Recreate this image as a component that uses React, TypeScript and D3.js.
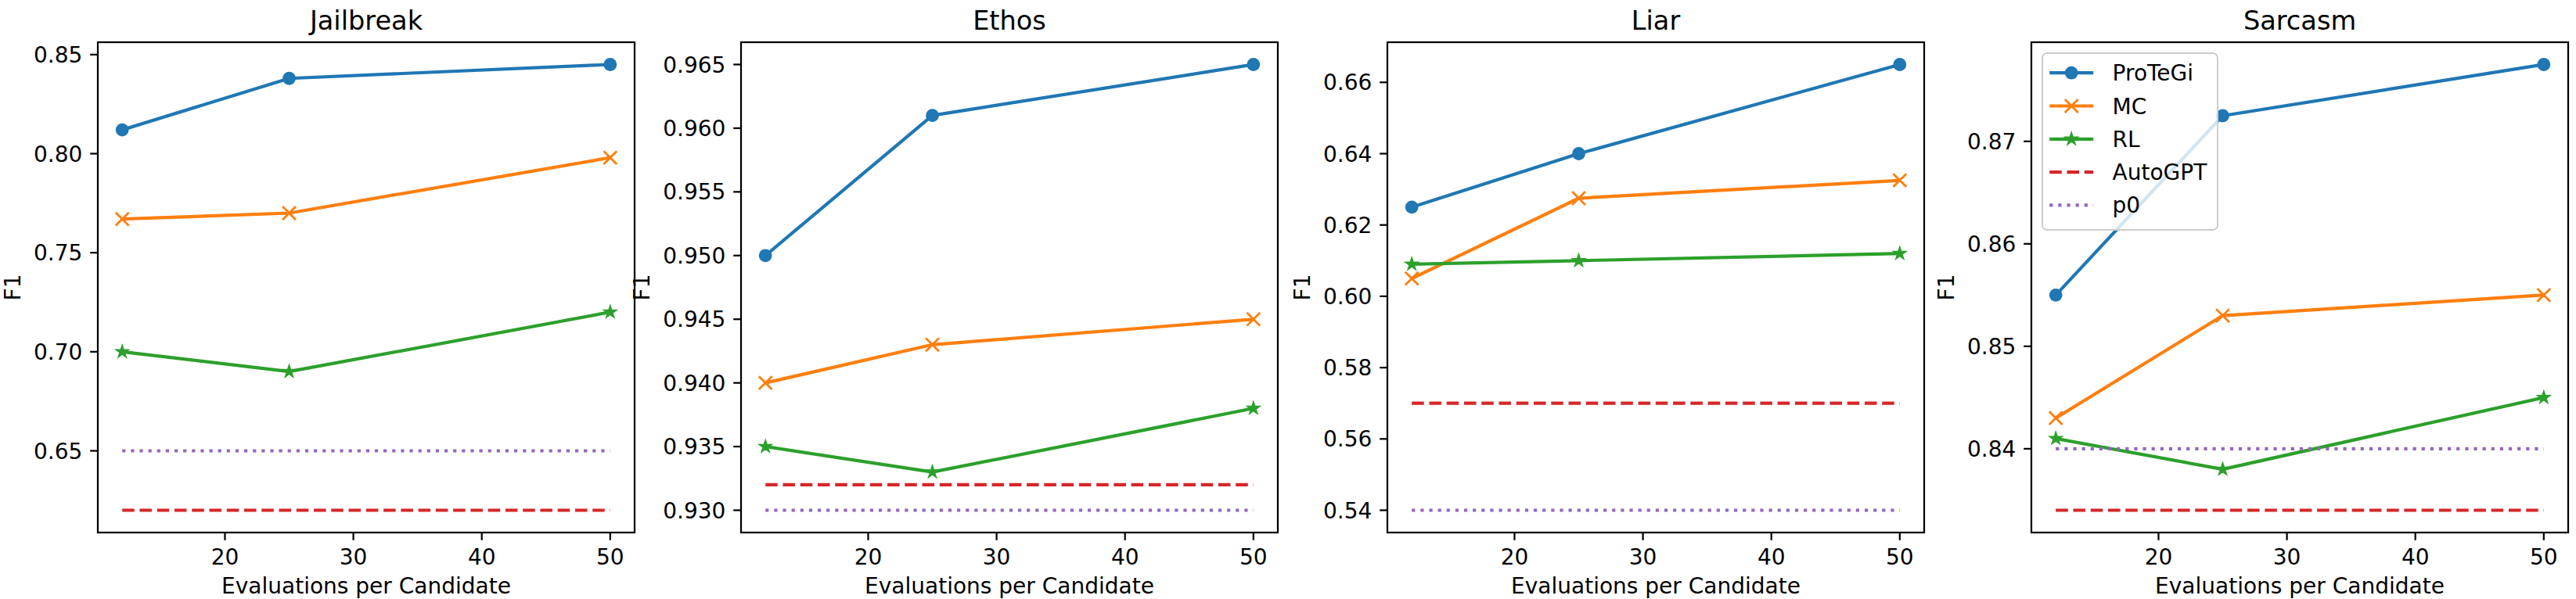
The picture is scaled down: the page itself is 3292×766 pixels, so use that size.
import React from 'react';
import * as d3 from 'd3';

const evals = [12, 25, 50];
const datasets = ['Jailbreak', 'Ethos', 'Liar', 'Sarcasm'];

// one row per dataset, one value per evals entry
const protegi = [
  [0.812, 0.838, 0.845],
  [0.95, 0.961, 0.965],
  [0.625, 0.64, 0.665],
  [0.855, 0.8725, 0.8775],
];
const mc = [
  [0.767, 0.77, 0.798],
  [0.94, 0.943, 0.945],
  [0.605, 0.6275, 0.6325],
  [0.843, 0.853, 0.855],
];
const rl = [
  [0.7, 0.69, 0.72],
  [0.935, 0.933, 0.938],
  [0.609, 0.61, 0.612],
  [0.841, 0.838, 0.845],
];
const autogpt = [0.62, 0.932, 0.57, 0.834];
const p0 = [0.65, 0.93, 0.54, 0.84];

const yTicks = [
  [0.65, 0.7, 0.75, 0.8, 0.85],
  [0.93, 0.935, 0.94, 0.945, 0.95, 0.955, 0.96, 0.965],
  [0.54, 0.56, 0.58, 0.6, 0.62, 0.64, 0.66],
  [0.84, 0.85, 0.86, 0.87],
];
const yTickFormats = ['.2f', '.3f', '.2f', '.2f'];
const xTicks = [20, 30, 40, 50];

const legendLabels = ['ProTeGi', 'MC', 'RL', 'AutoGPT', 'p0'];
const colors = ['#1f77b4', '#ff7f0e', '#2ca02c', '#d62728', '#9467bd'];

// layout (px); 1pt = 2.8px in this figure
const W = 3292;
const H = 766;
const PT = 2.8;
const panelLeft = [125, 947, 1773, 2596];
const panelWidth = 686;
const top = 54;
const bottom = 681;
const FONT = 28;
const FAMILY = '"DejaVu Sans", sans-serif';

function drawChart(svgEl: SVGSVGElement) {
  const svg = d3.select(svgEl);
  svg.selectAll('*').remove();

  datasets.forEach((name, i) => {
    const x0 = panelLeft[i];
    const x1 = x0 + panelWidth;
    const g = svg.append('g');

    const xPad = (d3.max(evals)! - d3.min(evals)!) * 0.05;
    const x = d3
      .scaleLinear()
      .domain([d3.min(evals)! - xPad, d3.max(evals)! + xPad])
      .range([x0, x1]);

    const all = [...protegi[i], ...mc[i], ...rl[i], autogpt[i], p0[i]];
    const lo = d3.min(all)!;
    const hi = d3.max(all)!;
    const yPad = (hi - lo) * 0.05;
    const y = d3.scaleLinear().domain([lo - yPad, hi + yPad]).range([bottom, top]);

    const line = d3
      .line<number>()
      .x((_, j) => x(evals[j]))
      .y((d) => y(d));

    const series = [protegi[i], mc[i], rl[i]];
    const markers = ['circle', 'x', 'star'];

    series.forEach((vals, s) => {
      g.append('path')
        .attr('d', line(vals))
        .attr('fill', 'none')
        .attr('stroke', colors[s])
        .attr('stroke-width', 1.5 * PT)
        .attr('stroke-linejoin', 'round')
        .attr('stroke-linecap', 'square');
      vals.forEach((v, j) => {
        drawMarker(g, markers[s], x(evals[j]), y(v), colors[s]);
      });
    });

    // flat baselines across the evaluated range
    const flat = [
      { v: autogpt[i], c: colors[3], dash: `${3.7 * 1.5 * PT},${1.6 * 1.5 * PT}` },
      { v: p0[i], c: colors[4], dash: `${1 * 1.5 * PT},${1.65 * 1.5 * PT}` },
    ];
    flat.forEach((f) => {
      g.append('line')
        .attr('x1', x(evals[0]))
        .attr('x2', x(evals[evals.length - 1]))
        .attr('y1', y(f.v))
        .attr('y2', y(f.v))
        .attr('stroke', f.c)
        .attr('stroke-width', 1.5 * PT)
        .attr('stroke-dasharray', f.dash);
    });

    // spines
    g.append('rect')
      .attr('x', x0)
      .attr('y', top)
      .attr('width', panelWidth)
      .attr('height', bottom - top)
      .attr('fill', 'none')
      .attr('stroke', 'black')
      .attr('stroke-width', 0.8 * PT);

    const tickLen = 3.5 * PT;
    const tickPad = 3.5 * PT;

    // x ticks
    xTicks.forEach((t) => {
      g.append('line')
        .attr('x1', x(t))
        .attr('x2', x(t))
        .attr('y1', bottom)
        .attr('y2', bottom + tickLen)
        .attr('stroke', 'black')
        .attr('stroke-width', 0.8 * PT);
      g.append('text')
        .attr('x', x(t))
        .attr('y', bottom + tickLen + tickPad + FONT * 0.76)
        .attr('text-anchor', 'middle')
        .attr('font-size', FONT)
        .attr('font-family', FAMILY)
        .text(String(t));
    });

    // y ticks
    const fmt = d3.format(yTickFormats[i]);
    let minLabelX = x0;
    yTicks[i].forEach((t) => {
      g.append('line')
        .attr('x1', x0 - tickLen)
        .attr('x2', x0)
        .attr('y1', y(t))
        .attr('y2', y(t))
        .attr('stroke', 'black')
        .attr('stroke-width', 0.8 * PT);
      const txt = g
        .append('text')
        .attr('x', x0 - tickLen - tickPad)
        .attr('y', y(t))
        .attr('dy', '0.36em')
        .attr('text-anchor', 'end')
        .attr('font-size', FONT)
        .attr('font-family', FAMILY)
        .text(fmt(t));
      const bb = (txt.node() as SVGTextElement).getBBox();
      minLabelX = Math.min(minLabelX, bb.x);
    });

    // axis labels and title
    const yl = minLabelX - 4 * PT - FONT * 0.2;
    g.append('text')
      .attr('transform', `translate(${yl},${(top + bottom) / 2}) rotate(-90)`)
      .attr('text-anchor', 'middle')
      .attr('font-size', FONT)
      .attr('font-family', FAMILY)
      .text('F1');

    g.append('text')
      .attr('x', (x0 + x1) / 2)
      .attr('y', 759)
      .attr('text-anchor', 'middle')
      .attr('font-size', FONT)
      .attr('font-family', FAMILY)
      .text('Evaluations per Candidate');

    g.append('text')
      .attr('x', (x0 + x1) / 2)
      .attr('y', 38)
      .attr('text-anchor', 'middle')
      .attr('font-size', FONT * 1.2)
      .attr('font-family', FAMILY)
      .text(name);

    if (i === datasets.length - 1) drawLegend(g, x0, top);
  });
}

function drawMarker(
  g: d3.Selection<SVGGElement, unknown, null, undefined>,
  kind: string,
  cx: number,
  cy: number,
  color: string,
) {
  if (kind === 'circle') {
    g.append('circle')
      .attr('cx', cx)
      .attr('cy', cy)
      .attr('r', 3 * PT)
      .attr('fill', color);
  } else if (kind === 'x') {
    g.append('path')
      .attr('transform', `translate(${cx},${cy})`)
      .attr('d', d3.symbol(d3.symbolX, 186)())
      .attr('fill', 'none')
      .attr('stroke', color)
      .attr('stroke-width', PT);
  } else {
    g.append('path')
      .attr('transform', `translate(${cx},${cy})`)
      .attr('d', d3.symbol(d3.symbolStar, 60)())
      .attr('fill', color)
      .attr('stroke', color)
      .attr('stroke-width', PT * 0.8)
      .attr('stroke-linejoin', 'miter');
  }
}

function drawLegend(
  g: d3.Selection<SVGGElement, unknown, null, undefined>,
  ax0: number,
  ay0: number,
) {
  const bx = ax0 + 0.5 * FONT;
  const by = ay0 + 0.5 * FONT;
  const rowH = 42.3;
  const pad = 0.4 * FONT;
  const bw = 224;
  const bh = pad * 2 + rowH * legendLabels.length - 8;

  g.append('rect')
    .attr('x', bx)
    .attr('y', by)
    .attr('width', bw)
    .attr('height', bh)
    .attr('rx', 6)
    .attr('fill', 'white')
    .attr('fill-opacity', 0.8)
    .attr('stroke', '#cccccc')
    .attr('stroke-width', 2);

  const markers = ['circle', 'x', 'star'];
  const dashes = [
    null,
    null,
    null,
    `${3.7 * 1.5 * PT},${1.6 * 1.5 * PT}`,
    `${1 * 1.5 * PT},${1.65 * 1.5 * PT}`,
  ];
  legendLabels.forEach((lab, k) => {
    const cy = by + pad + 14 + rowH * k;
    const hx0 = bx + pad - 2;
    const hx1 = hx0 + 2 * FONT;
    g.append('line')
      .attr('x1', hx0)
      .attr('x2', hx1)
      .attr('y1', cy)
      .attr('y2', cy)
      .attr('stroke', colors[k])
      .attr('stroke-width', 1.5 * PT)
      .attr('stroke-dasharray', dashes[k]);
    if (k < 3) drawMarker(g, markers[k], (hx0 + hx1) / 2, cy, colors[k]);
    g.append('text')
      .attr('x', hx1 + 0.8 * FONT + 2)
      .attr('y', cy)
      .attr('dy', '0.36em')
      .attr('font-size', FONT)
      .attr('font-family', FAMILY)
      .text(lab);
  });
}

export default function App() {
  const ref = React.useRef<SVGSVGElement>(null);
  React.useEffect(() => {
    if (ref.current) drawChart(ref.current);
  }, []);
  return (
    <svg
      ref={ref}
      width={W}
      height={H}
      style={{ position: 'absolute', left: 0, top: 0, background: 'white' }}
    />
  );
}
